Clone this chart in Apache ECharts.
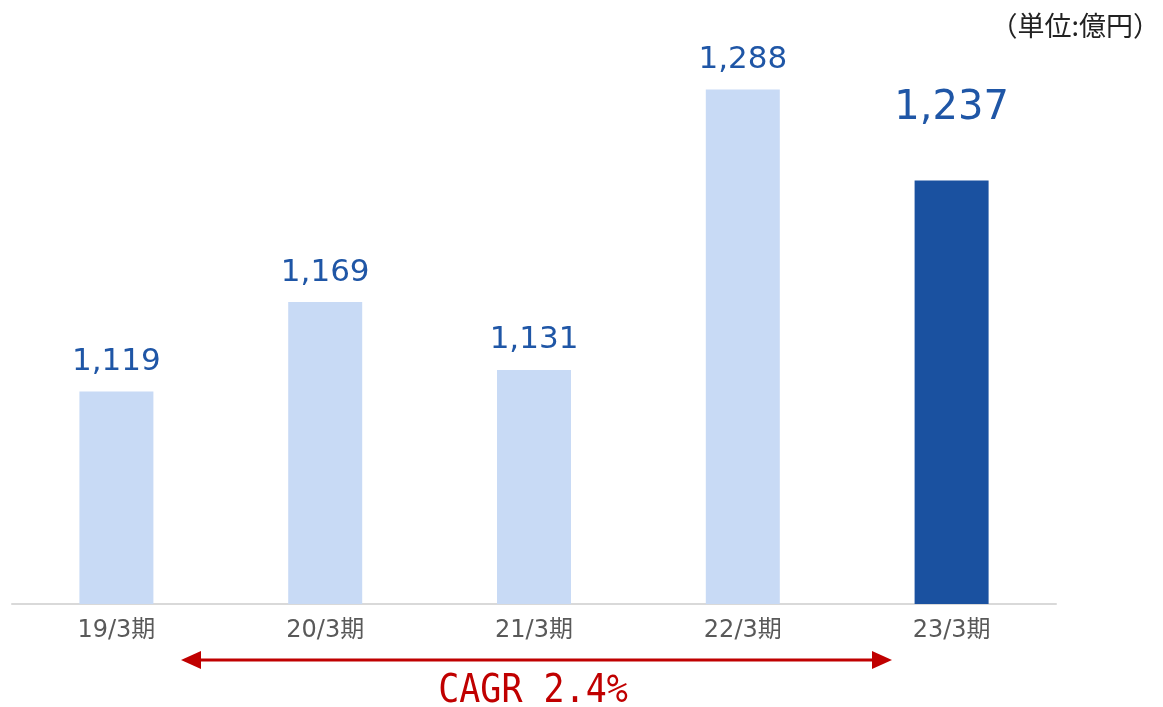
<!DOCTYPE html>
<html>
<head>
<meta charset="utf-8">
<script src="https://cdn.jsdelivr.net/npm/echarts@6/dist/echarts.min.js"></script>
<style>
  html, body { margin: 0; padding: 0; background: #fff; }
  #chart { width: 1163px; height: 707px; }
</style>
</head>
<body>
<div id="chart"></div>
<script>
const categories = ['19/3期', '20/3期', '21/3期', '22/3期', '23/3期'];
const sales = [1119, 1169, 1131, 1288, 1237];
const unitText = '（単位:億円）';
const cagrText = 'CAGR 2.4%';

const lightBlue = '#C8DAF5';
const darkBlue = '#1A51A0';
const labelBlue = '#1F56A6';
const red = '#C00000';

const lastIdx = sales.length - 1;

const chart = echarts.init(document.getElementById('chart'));

chart.setOption({
  animation: false,
  grid: { left: 12, right: 107, top: 68, bottom: 103 },
  xAxis: {
    type: 'category',
    data: categories,
    axisLine: { show: true, lineStyle: { color: '#D9D9D9', width: 2 } },
    axisTick: { show: false },
    axisLabel: {
      color: '#595959',
      fontSize: 24,
      fontFamily: 'DejaVu Sans, Noto Sans CJK JP',
      margin: 15
    }
  },
  yAxis: {
    type: 'value',
    min: 1000,
    max: 1300,
    show: false,
    splitLine: { show: false }
  },
  series: [{
    type: 'bar',
    barWidth: 74,
    data: sales.map((v, i) => ({
      value: v,
      itemStyle: { color: i === lastIdx ? darkBlue : lightBlue },
      label: i === lastIdx ? { fontSize: 40, distance: 52 } : {}
    })),
    label: {
      show: true,
      position: 'top',
      distance: 14,
      color: labelBlue,
      fontSize: 31,
      fontFamily: 'DejaVu Sans',
      formatter: p => p.value.toLocaleString('en-US')
    }
  }],
  graphic: [
    {
      type: 'text',
      right: 3,
      top: 12,
      style: {
        text: unitText,
        fill: '#222',
        font: '27px "Noto Sans CJK JP"'
      }
    },
    {
      type: 'line',
      shape: { x1: 195, y1: 660, x2: 878, y2: 660 },
      style: { stroke: red, lineWidth: 3 }
    },
    {
      type: 'polygon',
      shape: { points: [[181, 660], [201, 651], [201, 669]] },
      style: { fill: red }
    },
    {
      type: 'polygon',
      shape: { points: [[892, 660], [872, 651], [872, 669]] },
      style: { fill: red }
    },
    {
      type: 'text',
      x: 533,
      y: 692,
      scaleY: 1.12,
      style: {
        text: cagrText,
        fill: red,
        font: '35px "DejaVu Sans Mono"',
        align: 'center',
        verticalAlign: 'middle'
      }
    }
  ]
});
</script>
</body>
</html>
